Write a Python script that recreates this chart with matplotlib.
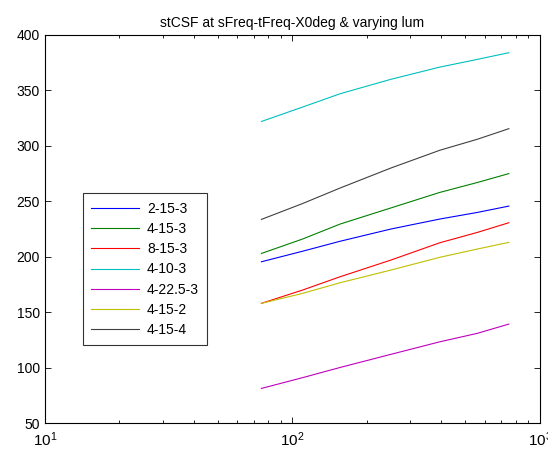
import numpy as np
import matplotlib
matplotlib.use("Agg")
import matplotlib.pyplot as plt

plt.rcParams['font.family'] = ['Liberation Sans', 'DejaVu Sans']
plt.rcParams['mathtext.fontset'] = 'custom'
plt.rcParams['mathtext.rm'] = 'Liberation Sans'

# luminance values (x) and stCSF per condition
lum = [75, 110, 156, 250, 394, 560, 750]
labels = ['2-15-3', '4-15-3', '8-15-3', '4-10-3', '4-22.5-3', '4-15-2', '4-15-4']
s_2_15_3 = [195.5, 205, 214, 225, 234, 240, 245.7]
s_4_15_3 = [203, 216, 229.5, 244, 258, 267, 275]
s_8_15_3 = [158, 170, 182, 197, 212.6, 222, 230.7]
s_4_10_3 = [322, 335, 347, 360, 371, 378, 384]
s_4_225_3 = [81.3, 91, 100.2, 112, 123.3, 131, 139.3]
s_4_15_2 = [158, 167, 176.6, 188, 199.5, 207, 213]
s_4_15_4 = [233.7, 248, 262, 280, 296, 306, 315.5]
series = [s_2_15_3, s_4_15_3, s_8_15_3, s_4_10_3, s_4_225_3, s_4_15_2, s_4_15_4]

colors = [(0, 0, 1), (0, 0.5, 0), (1, 0, 0), (0, 0.75, 0.75),
          (0.75, 0, 0.75), (0.75, 0.75, 0), (0.25, 0.25, 0.25)]

fig = plt.figure(figsize=(5.48, 4.54), dpi=100)
ax = fig.add_axes([0.082, 0.068, 0.903, 0.855])

for s, c, lab in zip(series, colors, labels):
    ax.plot(lum, s, color=c, lw=0.8, label=lab)

ax.set_xscale('log')
ax.set_xlim(10, 1000)
ax.set_ylim(50, 400)
ax.set_yticks(np.arange(50, 401, 50))
ax.tick_params(which='both', direction='in', top=True, right=True, labelsize=10)
ax.tick_params(axis='x', labelsize=11, pad=5)
ax.tick_params(which='major', length=4, width=0.6)
ax.tick_params(which='minor', length=2.5, width=0.6)
for sp in ax.spines.values():
    sp.set_linewidth(0.8)
ax.set_title('stCSF at sFreq-tFreq-X0deg & varying lum', fontsize=10, pad=6)

leg = ax.legend(loc='lower left', bbox_to_anchor=(0.077, 0.2), fontsize=10,
                handlelength=3.4, frameon=True, fancybox=False, borderpad=0.6,
                borderaxespad=0, labelspacing=0.45, handletextpad=0.6)
leg.get_frame().set_edgecolor('black')
leg.get_frame().set_linewidth(0.8)

fig.savefig('out.png', dpi=100)
